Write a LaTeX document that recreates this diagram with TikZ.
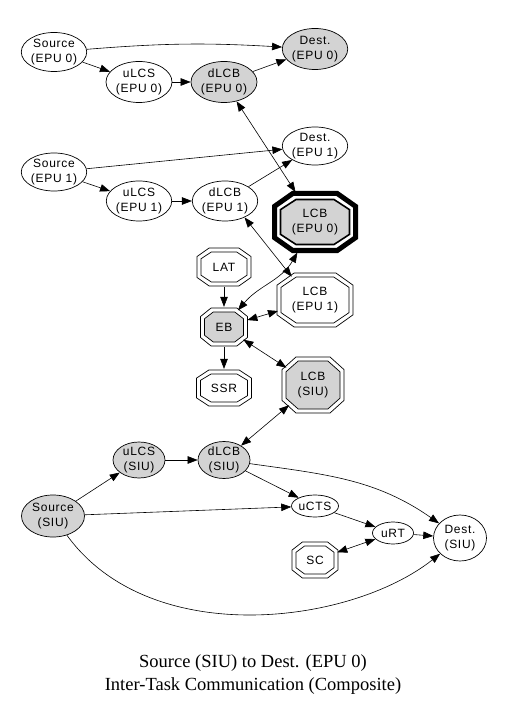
\documentclass[tikz,border=0pt]{standalone}
\usepackage{fontspec}
\setmainfont{Liberation Serif}
\newfontfamily\nodefont[LetterSpace=6]{Liberation Sans}
\usetikzlibrary{arrows.meta,shapes.geometric}
\definecolor{gvgray}{HTML}{D3D3D3}
\tikzset{
  every node/.style={font=\nodefont\fontsize{12}{14.5}\selectfont, align=center},
  ell/.style={ellipse, draw, inner sep=0pt, line width=0.7pt},
  grayfill/.style={fill=gvgray},
  anch/.style={ellipse, inner sep=0pt},
  octline/.style={line width=0.7pt},
  edge/.style={line width=0.6pt, -{Triangle[length=10pt,width=7.5pt]}},
  biedge/.style={line width=0.6pt, {Triangle[length=10pt,width=7.5pt]}-{Triangle[length=10pt,width=7.5pt]}},
  titlefont/.style={font=\rmfamily\fontsize{18.5}{23}\selectfont},
}
\newcommand\octshape[5]{%
  \pgfmathsetmacro\oA{(#3)/2}\pgfmathsetmacro\oB{(#4)/2}%
  \pgfmathsetmacro\oFA{0.55*(#3)/2}\pgfmathsetmacro\oFB{0.55*(#4)/2}%
  \draw[#5] ({#1-\oA},{#2-\oFB}) -- ({#1-\oFA},{#2-\oB}) -- ({#1+\oFA},{#2-\oB}) -- ({#1+\oA},{#2-\oFB}) -- ({#1+\oA},{#2+\oFB}) -- ({#1+\oFA},{#2+\oB}) -- ({#1-\oFA},{#2+\oB}) -- ({#1-\oA},{#2+\oFB}) -- cycle;}
\newcommand\dococt[7]{%
  \octshape{#2}{#3}{#4}{#5}{octline}
  \octshape{#2}{#3}{(#4)-8}{(#5)-8}{octline,#6}
  \node[anch, minimum width={1.05*(#4)}, minimum height={1.05*(#5)}] (#1) at (#2,#3) {#7};}
\begin{document}
\begin{tikzpicture}[x=1pt,y=-1pt]
\useasboundingbox (0,0) rectangle (505,708);
% top group EPU 0
\node[ell, minimum width=65, minimum height=39] (s0) at (54,52) {Source\\(EPU 0)};
\node[ell, grayfill, minimum width=64, minimum height=41] (d0) at (315,49) {Dest.\\(EPU 0)};
\node[ell, minimum width=66, minimum height=41] (u0) at (139,82) {uLCS\\(EPU 0)};
\node[ell, grayfill, minimum width=66, minimum height=41] (dl0) at (224,82) {dLCB\\(EPU 0)};
% EPU 1
\node[ell, minimum width=64, minimum height=38] (s1) at (54,172) {Source\\(EPU 1)};
\node[ell, minimum width=64, minimum height=38] (d1) at (315,146) {Dest.\\(EPU 1)};
\node[ell, minimum width=64, minimum height=40] (u1) at (139,201) {uLCS\\(EPU 1)};
\node[ell, minimum width=63, minimum height=40] (dl1) at (225,201) {dLCB\\(EPU 1)};
% LCB EPU 0 (bold)
\octshape{315}{222}{81}{57}{line width=5pt}
\octshape{315}{222}{69}{45}{line width=1.6pt, fill=gvgray}
\node[anch, minimum width=90, minimum height=66] (lcb0) at (315,222) {LCB\\(EPU 0)};
% octagons
\dococt{lat}{224}{267}{54}{38}{}{LAT}
\dococt{eb}{224}{327}{47}{38}{fill=gvgray}{EB}
\dococt{ssr}{224}{388}{55}{36}{}{SSR}
\dococt{lcb1}{315}{300}{76}{54}{}{LCB\\(EPU 1)}
\dococt{lcbs}{313}{385}{62}{56}{fill=gvgray}{LCB\\(SIU)}
\dococt{sc}{315}{560}{46}{36}{}{SC}
% SIU group
\node[ell, grayfill, minimum width=52, minimum height=36] (us) at (139,460) {uLCS\\(SIU)};
\node[ell, grayfill, minimum width=52, minimum height=37] (dls) at (224,460) {dLCB\\(SIU)};
\node[ell, grayfill, minimum width=63, minimum height=42] (ss) at (53,516) {Source\\(SIU)};
\node[ell, minimum width=47, minimum height=22] (ucts) at (315,506) {uCTS};
\node[ell, minimum width=41, minimum height=22] (urt) at (393,533) {uRT};
\node[ell, minimum width=53, minimum height=46] (ds) at (460,538) {Dest.\\(SIU)};
% edges
\draw[edge] (s0) to[bend left=4] (d0);
\draw[edge] (s0) -- (u0);
\draw[edge] (u0) -- (dl0);
\draw[edge] (dl0) -- (d0);
\draw[biedge] (dl0) -- (lcb0);
\draw[edge] (s1) -- (d1);
\draw[edge] (s1) -- (u1);
\draw[edge] (u1) -- (dl1);
\draw[edge] (dl1) -- (d1);
\draw[biedge] (dl1.-40) -- (lcb1.135);
\draw[biedge] (lcb0) to[out=-120,in=50] (eb);
\draw[edge] (lat) -- (eb);
\draw[edge] (eb) -- (ssr);
\draw[biedge] (eb) -- (lcb1);
\draw[biedge] (eb) -- (lcbs);
\draw[biedge] (dls) -- (lcbs);
\draw[edge] (ss) -- (us);
\draw[edge] (us) -- (dls);
\draw[edge] (dls) -- (ucts);
\draw[edge] (dls) to[out=-8,in=145] (ds);
\draw[edge] (ss) -- (ucts);
\draw[edge] (ss) .. controls (150,650) and (350,625) .. (ds);
\draw[edge] (ucts) -- (urt);
\draw[edge] (urt) -- (ds);
\draw[biedge] (sc) -- (urt);
% title
\node[titlefont] (title) at (253,675) {Source (SIU) to Dest. (EPU 0)\\Inter-Task Communication (Composite)};
\end{tikzpicture}
\end{document}
